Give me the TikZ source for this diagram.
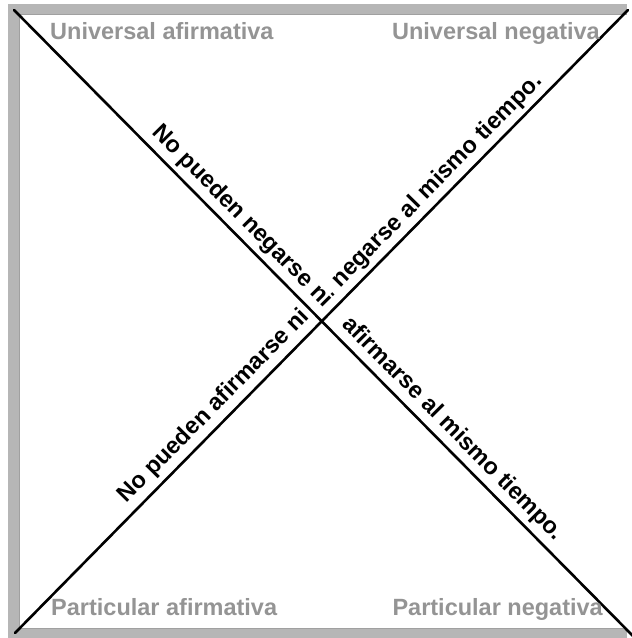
\documentclass[tikz,border=0pt]{standalone}
\usepackage{fontspec}
\setmainfont{Liberation Sans}
\usetikzlibrary{calc}
\definecolor{framegray}{RGB}{182,182,182}
\definecolor{edgegray}{RGB}{160,160,160}
\definecolor{labelgray}{RGB}{148,148,148}
\begin{document}
\begin{tikzpicture}[x=1pt,y=1pt,
  diag/.style={line width=2.6pt, line cap=round, black},
  cornerlabel/.style={font=\fontsize{23.5}{28}\selectfont\bfseries, text=labelgray, inner sep=0pt},
  diagtext/.style={font=\fontsize{23.5}{28}\selectfont\bfseries, text=black, inner sep=0pt}]
\useasboundingbox (0,0) rectangle (632,638);
% frame
\fill[framegray] (8,0) rectangle (19,634);
\fill[framegray] (8,624) rectangle (627,634);
\fill[framegray] (8,0) rectangle (627,9);
\draw[edgegray, line width=1pt] (19,9.5) -- (19,623.5) -- (627,623.5);
\draw[edgegray, line width=1pt] (19,9.5) -- (627,9.5);
% diagonals
\coordinate (A) at (14,628);
\coordinate (B) at (633,2);
\coordinate (D) at (15,5);
\coordinate (E) at (628,628);
\draw[diag] (A) -- (B);
\draw[diag] (D) -- (E);
% diagonal texts
\node[diagtext, rotate=-45.3, anchor=base east] (t1) at ($(A)!430pt!(B)+(7.8,7.7)$) {No pueden negarse ni};
\node[diagtext, rotate=45.5, anchor=base west] (t2) at ($(D)!474pt!(E)+(-7.1,7.0)$) {negarse al mismo tiempo.};
\node[diagtext, rotate=45.5, anchor=base east] (t3) at ($(D)!432pt!(E)+(-7.8,7.7)$) {No pueden afirmarse ni};
\node[diagtext, rotate=-45.3, anchor=base west] (t4) at ($(A)!454pt!(B)+(7.8,7.7)$) {afirmarse al mismo tiempo.};
% corner labels
\node[cornerlabel, anchor=base west] (ua) at (50,598.5) {Universal afirmativa};
\node[cornerlabel, anchor=base east] (un) at (600,598.5) {Universal negativa};
\node[cornerlabel, anchor=base west] (pa) at (51,22) {Particular afirmativa};
\node[cornerlabel, anchor=base east] (pn) at (603,22) {Particular negativa};
\end{tikzpicture}
\end{document}
